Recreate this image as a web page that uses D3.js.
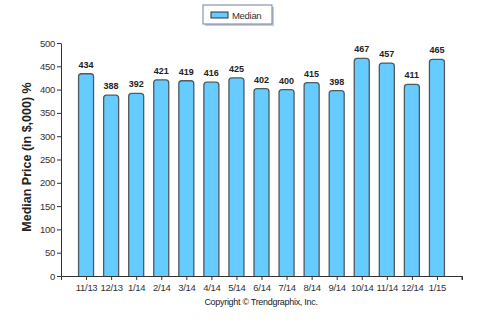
<!DOCTYPE html>
<html><head><meta charset="utf-8">
<script src="https://cdn.jsdelivr.net/npm/d3@7"></script>
<style>body{margin:0;background:#fff}svg{display:block}</style>
</head><body><svg id="c" width="493" height="330"></svg>
<script>
const categories = ["11/13","12/13","1/14","2/14","3/14","4/14","5/14","6/14","7/14","8/14","9/14","10/14","11/14","12/14","1/15"];
const medianValues = [434,388,392,421,419,416,425,402,400,415,398,467,457,411,465];
const yTicks = [0,50,100,150,200,250,300,350,400,450,500];
const seriesName = "Median";

(function () {
const svg = d3.select("#c");
const mLeft = 61, mRight = 462, mTop = 43, mBottom = 276;
const x = d3.scalePoint().domain(categories).range([mLeft, mRight]).padding(1);
const y = d3.scaleLinear().domain([0, 500]).range([mBottom, mTop]);
const font = "Arial, 'Liberation Sans', sans-serif";

// axes
const yAxis = svg.append("g").attr("transform", `translate(${mLeft},0)`)
  .call(d3.axisLeft(y).tickValues(yTicks).tickSize(4).tickSizeOuter(0));
const xAxis = svg.append("g").attr("transform", `translate(0,${mBottom})`)
  .call(d3.axisBottom(x).tickSize(4).tickSizeOuter(4));
[yAxis, xAxis].forEach(g => {
  g.selectAll("path.domain").attr("stroke", "#333");
  g.selectAll(".tick line").attr("stroke", "#333");
  g.selectAll("text").attr("fill", "#333").style("font-family", font)
    .style("font-size", "9.5px").style("letter-spacing", "-0.3px");
});
yAxis.selectAll("text").attr("x", -6);
xAxis.selectAll("text").attr("y", 8);
svg.append("line").attr("x1", mRight).attr("x2", mRight).attr("y1", mBottom).attr("y2", mBottom + 4).attr("stroke", "#333");

// bars
const bw = 15;
const r = 3;
function barPath(cx, yTop) {
  const x0 = cx - bw / 2, x1 = cx + bw / 2;
  return `M${x0},${mBottom} L${x0},${yTop + r} Q${x0},${yTop} ${x0 + r},${yTop} L${x1 - r},${yTop} Q${x1},${yTop} ${x1},${yTop + r} L${x1},${mBottom}`;
}
svg.append("g").selectAll("path").data(medianValues).join("path")
  .attr("d", (d, i) => barPath(x(categories[i]), y(d)))
  .attr("fill", "#66CCFF").attr("stroke", "#4d5a60").attr("stroke-width", 1.3);

// value labels
svg.append("g").selectAll("text").data(medianValues).join("text")
  .attr("x", (d, i) => x(categories[i])).attr("y", d => y(d) - 6)
  .attr("text-anchor", "middle").style("font-family", font)
  .style("font-size", "9px").style("font-weight", "bold").attr("fill", "#222")
  .text(d => d);

// y label
svg.append("text").attr("transform", "translate(31,157) rotate(-90)")
  .attr("text-anchor", "middle").style("font-family", font)
  .style("font-size", "12.5px").style("font-weight", "bold").attr("fill", "#222")
  .text("Median Price (in $,000) %");

// legend
const lg = svg.append("g");
lg.append("rect").attr("x", 205).attr("y", 7).attr("width", 69).attr("height", 19).attr("fill", "#c8ccd4");
lg.append("rect").attr("x", 203).attr("y", 5).attr("width", 69).attr("height", 19).attr("fill", "#fff").attr("stroke", "#7080a0").attr("stroke-width", 1);
lg.append("rect").attr("x", 211).attr("y", 12).attr("width", 17).attr("height", 6).attr("fill", "#66CCFF").attr("stroke", "#333").attr("stroke-width", 1);
lg.append("text").attr("x", 232).attr("y", 18.5).style("font-family", font).style("font-size", "9.5px")
  .style("letter-spacing", "-0.3px").attr("fill", "#333").text(seriesName);

// copyright
svg.append("text").attr("x", 261).attr("y", 305).attr("text-anchor", "middle")
  .style("font-family", font).style("font-size", "9px").style("letter-spacing", "-0.3px").attr("fill", "#222")
  .text("Copyright \u00A9 Trendgraphix, Inc.");
})();
</script></body></html>
